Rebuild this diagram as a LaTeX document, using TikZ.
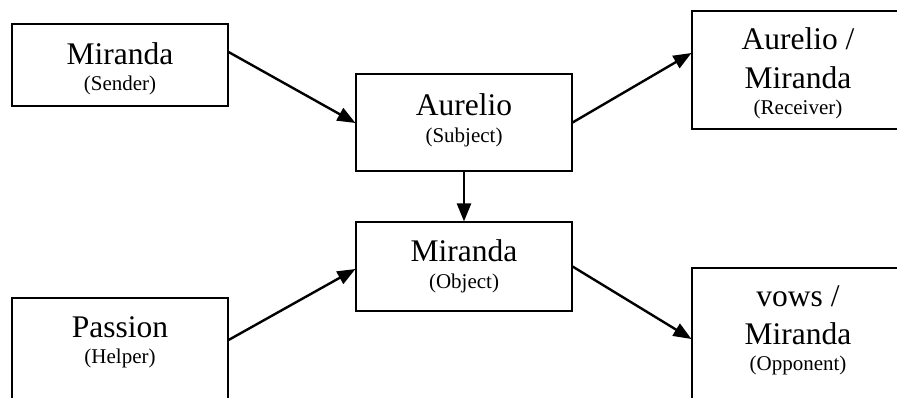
\documentclass[tikz,border=0pt]{standalone}
\usepackage{fontspec}
\setmainfont{Liberation Serif}
\usetikzlibrary{arrows.meta}
\tikzset{
  box/.style={draw=black, line width=1.1pt, rectangle, inner sep=0pt},
  big/.style={anchor=base, inner sep=0pt, font=\fontsize{31.5}{36}\selectfont},
  small/.style={anchor=base, inner sep=0pt, font=\fontsize{21}{24}\selectfont},
  arr/.style={line width=2.4pt, -{Triangle[length=18pt,width=14pt]}, shorten >=0pt}
}
\begin{document}
\begin{tikzpicture}[x=1pt,y=-1pt]
\useasboundingbox (0,0) rectangle (897,397);
\clip (0,0) rectangle (897,397);
% boxes
\node[box, minimum width=216pt, minimum height=82pt] (sender) at (120,65) {};
\node[box, minimum width=216pt, minimum height=97pt] (subject) at (464,122.5) {};
\node[box, minimum width=212pt, minimum height=118pt] (receiver) at (798,70) {};
\node[box, minimum width=216pt, minimum height=89pt] (object) at (464,266.5) {};
\node[box, minimum width=216pt, minimum height=122pt] (helper) at (120,359) {};
\node[box, minimum width=212pt, minimum height=152pt] (opponent) at (798,344) {};
% texts
\node[big] (t1) at (120,64) {Miranda};
\node[small] (s1) at (120,90) {(Sender)};
\node[big] (t2) at (464,115) {Aurelio};
\node[small] (s2) at (464,142) {(Subject)};
\node[big] (t3a) at (798,49) {Aurelio /};
\node[big] (t3b) at (798,88) {Miranda};
\node[small] (s3) at (798,114) {(Receiver)};
\node[big] (t4) at (464,261) {Miranda};
\node[small] (s4) at (464,288) {(Object)};
\node[big] (t5) at (120,337) {Passion};
\node[small] (s5) at (120,363) {(Helper)};
\node[big] (t6a) at (798,306) {vows /};
\node[big] (t6b) at (798,344) {Miranda};
\node[small] (s6) at (798,370) {(Opponent)};
% arrows
\draw[arr] ([yshift=13pt]sender.east) -- ([yshift=-0.5pt]subject.west);
\draw[arr] (subject.east) -- ([yshift=17pt]receiver.west);
\draw[arr] (subject.south) -- (object.north);
\draw[arr] ([yshift=19pt]helper.east) -- ([yshift=-2.5pt]object.west);
\draw[arr] (object.east) -- ([yshift=5pt]opponent.west);
\end{tikzpicture}
\end{document}
